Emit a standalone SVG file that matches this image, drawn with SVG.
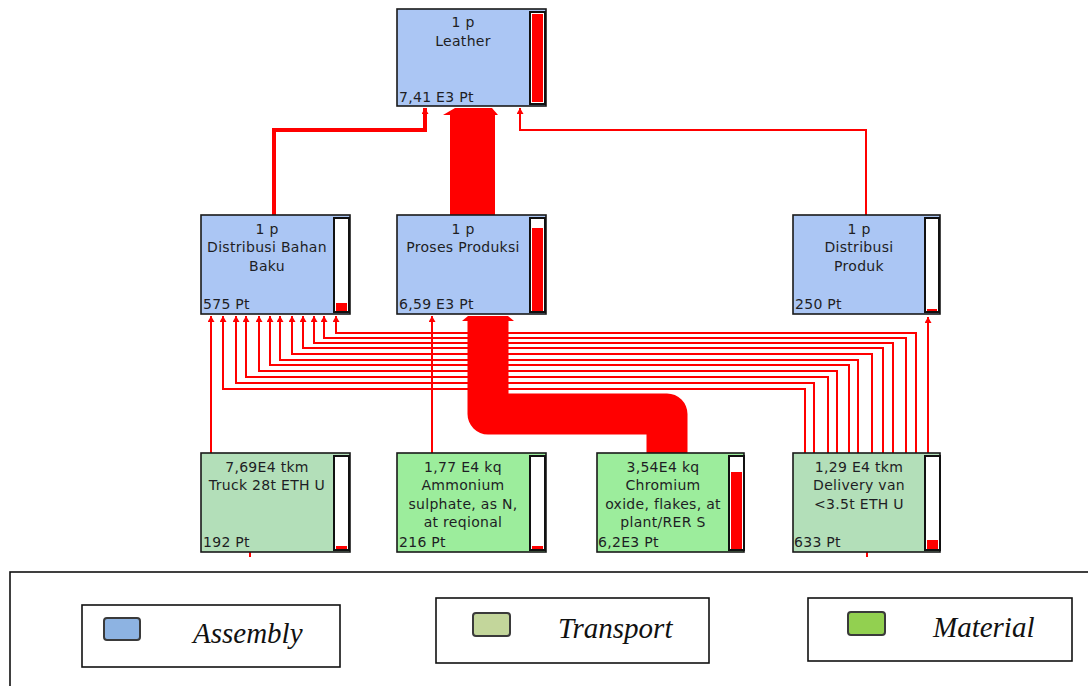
<svg xmlns="http://www.w3.org/2000/svg" width="1088" height="686" viewBox="0 0 1088 686">
<style>
.asm{fill:#abc6f4;stroke:#1a1a1a;stroke-width:1.6}
.trn{fill:#b3dfb9;stroke:#1a1a1a;stroke-width:1.6}
.mat{fill:#9ced9c;stroke:#1a1a1a;stroke-width:1.6}
.bar{fill:#ffffff;stroke:#111;stroke-width:2}
.lvl{fill:#ff0000}
.t{font-family:"DejaVu Sans","Liberation Sans",sans-serif;font-size:14px;letter-spacing:0.3px;fill:#1e1e24;text-anchor:middle}
.v{font-family:"DejaVu Sans","Liberation Sans",sans-serif;font-size:14px;letter-spacing:0.3px;fill:#1e1e24}
.c{fill:none;stroke:#ff0000;stroke-width:2}
.lg{fill:#ffffff;stroke:#111;stroke-width:1.6}
.lt{font-family:"Liberation Serif",serif;font-style:italic;font-size:29px;fill:#111}
</style>
<defs>
<marker id="ah" markerUnits="userSpaceOnUse" markerWidth="8" markerHeight="8" refX="6" refY="3.5" orient="auto">
<path d="M0,0 L6,3.5 L0,7 Z" fill="#ff0000"/>
</marker>
</defs>
<rect width="1088" height="686" fill="#ffffff"/>

<g id="connectors">
<path class="c" marker-end="url(#ah)" d="M805,453 V389 H223 V316"/>
<path class="c" marker-end="url(#ah)" d="M814,453 V383 H236 V316"/>
<path class="c" marker-end="url(#ah)" d="M828,453 V377 H246 V316"/>
<path class="c" marker-end="url(#ah)" d="M837,453 V371 H259 V316"/>
<path class="c" marker-end="url(#ah)" d="M849,453 V365 H270 V316"/>
<path class="c" marker-end="url(#ah)" d="M858,453 V360 H280 V316"/>
<path class="c" marker-end="url(#ah)" d="M872,453 V354 H292 V316"/>
<path class="c" marker-end="url(#ah)" d="M883,453 V348 H303 V316"/>
<path class="c" marker-end="url(#ah)" d="M893,453 V343 H314 V316"/>
<path class="c" marker-end="url(#ah)" d="M906,453 V338 H324 V316"/>
<path class="c" marker-end="url(#ah)" d="M916,453 V333 H336 V316"/>
<path class="c" marker-end="url(#ah)" d="M211,453 V316"/>
<path class="c" marker-end="url(#ah)" d="M432,453 V316"/>
<path class="c" marker-end="url(#ah)" d="M928,453 V317"/>
<path d="M488,320 V414 H667 V453" fill="none" stroke="#ff0000" stroke-width="41" stroke-linejoin="round"/>
<polygon points="462,321 514,321 508,316 468,316" fill="#ff0000"/>
<rect x="450" y="112" width="45" height="103" fill="#ff0000"/>
<polygon points="443,115 498,115 492,108 455,108" fill="#ff0000"/>
<path d="M274,215 V130 H425 V108" fill="none" stroke="#ff0000" stroke-width="4" marker-end="url(#ah)"/>
<path class="c" marker-end="url(#ah)" d="M866,215 V130 H520 V108"/>
<path class="c" d="M250,552 V557"/>
<path class="c" d="M867,552 V557"/>
</g>

<g id="leather">
<rect class="asm" x="397" y="9" width="149" height="97"/>
<rect class="bar" x="530" y="12" width="15" height="92"/>
<rect class="lvl" x="532" y="14" width="11" height="88"/>
<text class="t" x="463" y="27">1 p</text>
<text class="t" x="463" y="46">Leather</text>
<text class="v" x="399" y="102">7,41 E3 Pt</text>
</g>

<g id="distribusi-bahan-baku">
<rect class="asm" x="201" y="215" width="149" height="99"/>
<rect class="bar" x="334" y="218" width="15" height="94"/>
<rect class="lvl" x="336" y="303" width="11" height="8"/>
<text class="t" x="267" y="234">1 p</text>
<text class="t" x="267" y="252">Distribusi Bahan</text>
<text class="t" x="267" y="271">Baku</text>
<text class="v" x="203" y="309">575 Pt</text>
</g>

<g id="proses-produksi">
<rect class="asm" x="397" y="215" width="149" height="99"/>
<rect class="bar" x="530" y="218" width="15" height="94"/>
<rect class="lvl" x="532" y="228" width="11" height="83"/>
<text class="t" x="463" y="234">1 p</text>
<text class="t" x="463" y="252">Proses Produksi</text>
<text class="v" x="399" y="309">6,59 E3 Pt</text>
</g>

<g id="distribusi-produk">
<rect class="asm" x="793" y="215" width="147" height="99"/>
<rect class="bar" x="925" y="218" width="14" height="94"/>
<rect class="lvl" x="927" y="309" width="10" height="2"/>
<text class="t" x="859" y="234">1 p</text>
<text class="t" x="859" y="252">Distribusi</text>
<text class="t" x="859" y="271">Produk</text>
<text class="v" x="795" y="309">250 Pt</text>
</g>

<g id="truck">
<rect class="trn" x="201" y="453" width="149" height="99"/>
<rect class="bar" x="334" y="456" width="15" height="94"/>
<rect class="lvl" x="336" y="546" width="11" height="3"/>
<text class="t" x="267" y="472">7,69E4 tkm</text>
<text class="t" x="267" y="490">Truck 28t ETH U</text>
<text class="v" x="203" y="547">192 Pt</text>
</g>

<g id="ammonium">
<rect class="mat" x="397" y="453" width="149" height="99"/>
<rect class="bar" x="530" y="456" width="15" height="94"/>
<rect class="lvl" x="532" y="546" width="11" height="3"/>
<text class="t" x="463" y="472">1,77 E4 kq</text>
<text class="t" x="463" y="490">Ammonium</text>
<text class="t" x="463" y="509">sulphate, as N,</text>
<text class="t" x="463" y="527">at reqional</text>
<text class="v" x="399" y="547">216 Pt</text>
</g>

<g id="chromium">
<rect class="mat" x="597" y="453" width="147" height="99"/>
<rect class="bar" x="729" y="456" width="15" height="94"/>
<rect class="lvl" x="731" y="472" width="11" height="77"/>
<text class="t" x="663" y="472">3,54E4 kq</text>
<text class="t" x="663" y="490">Chromium</text>
<text class="t" x="663" y="509">oxide, flakes, at</text>
<text class="t" x="663" y="527">plant/RER S</text>
<text class="v" x="598" y="547">6,2E3 Pt</text>
</g>

<g id="delivery-van">
<rect class="trn" x="793" y="453" width="147" height="99"/>
<rect class="bar" x="925" y="456" width="15" height="94"/>
<rect class="lvl" x="927" y="540" width="11" height="9"/>
<text class="t" x="859" y="472">1,29 E4 tkm</text>
<text class="t" x="859" y="490">Delivery van</text>
<text class="t" x="859" y="509">&lt;3.5t ETH U</text>
<text class="v" x="794" y="547">633 Pt</text>
</g>

<g id="legend">
<rect class="lg" x="10" y="572" width="1090" height="130"/>
<rect class="lg" x="82" y="605" width="258" height="62"/>
<rect x="104" y="618" width="36" height="22" rx="3" fill="#8db3e2" stroke="#3a3a3a" stroke-width="2"/>
<text class="lt" x="193" y="643">Assembly</text>
<rect class="lg" x="436" y="598" width="273" height="65"/>
<rect x="473" y="613" width="37" height="23" rx="3" fill="#c3d69b" stroke="#3a3a3a" stroke-width="2"/>
<text class="lt" x="558" y="638">Transport</text>
<rect class="lg" x="808" y="598" width="264" height="63"/>
<rect x="848" y="612" width="37" height="23" rx="3" fill="#92d050" stroke="#3a3a3a" stroke-width="2"/>
<text class="lt" x="933" y="637">Material</text>
</g>
</svg>
